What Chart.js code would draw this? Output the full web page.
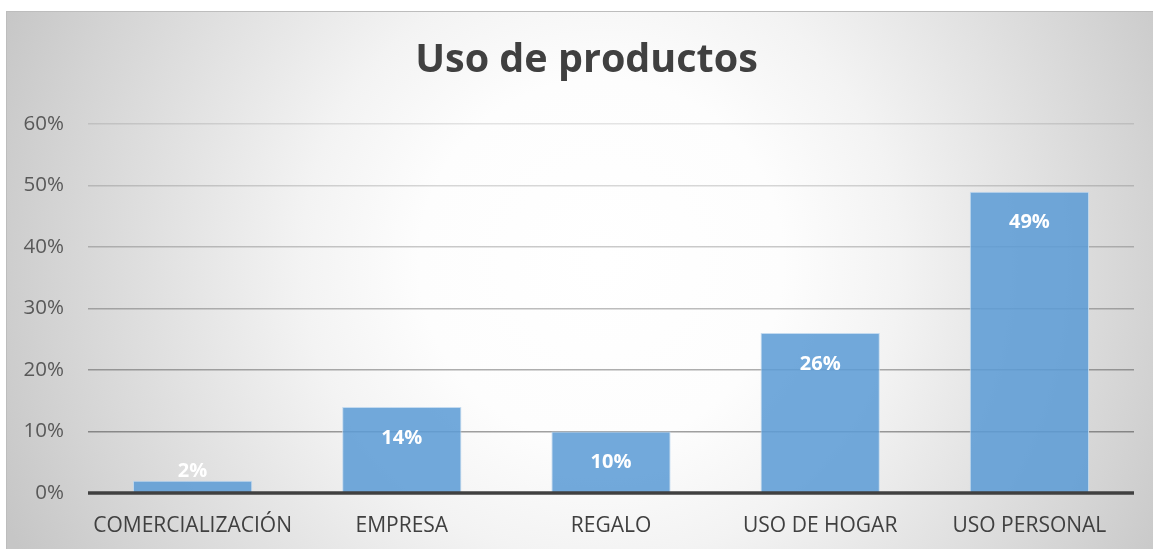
<!DOCTYPE html>
<html>
<head>
<meta charset="utf-8">
<script src="https://cdn.jsdelivr.net/npm/chart.js@4.4.1/dist/chart.umd.min.js"></script>
<style>
  html, body { margin: 0; padding: 0; background: #ffffff; overflow: hidden; }
  #marco {
    position: absolute; left: 6px; top: 11px; width: 1160px; height: 560px;
    border: 1px solid #bdbdbd;
    background: radial-gradient(circle 650px at 594px 249px, #ffffff 0%, #fdfdfd 28%, #f3f3f3 46%, #d3d3d3 85%, #c6c6c6 100%);
  }
  #caja { position: absolute; left: 0; top: 0; width: 1153px; height: 549px; }
</style>
</head>
<body>
<div id="marco"></div>
<div id="caja"><canvas id="grafico"></canvas></div>
<script>
// datos del grafico
const titulo = 'Uso de productos';
const categorias = ["COMERCIALIZACIÓN", "EMPRESA", "REGALO", "USO DE HOGAR", "USO PERSONAL"];
const porcentajes = [2, 14, 10, 26, 49];
const marcasEje = [0, 10, 20, 30, 40, 50, 60];

// lineas de la cuadricula: mas oscuras hacia abajo
function colorRejilla(ctx) {
  const v = ctx.tick ? ctx.tick.value : 0;
  if (v === 0) return 'rgba(0,0,0,0)';
  const alfa = 0.42 - (v / 60) * 0.32;
  return 'rgba(0,0,0,' + alfa.toFixed(3) + ')';
}

// titulo centrado sobre el marco completo
const tituloMarco = {
  id: 'tituloMarco',
  afterDraw(chart) {
    const c = chart.ctx;
    c.save();
    c.fillStyle = '#404040';
    c.font = 'bold 39.5px "Open Sans"';
    c.textAlign = 'center';
    c.textBaseline = 'alphabetic';
    c.fillText(titulo, chart.width / 2 + 10, 72);
    c.restore();
  }
};

// linea del cero encima de las barras
const lineaCero = {
  id: 'lineaCero',
  afterDatasetsDraw(chart) {
    const c = chart.ctx, a = chart.chartArea;
    const y = chart.scales.y.getPixelForValue(0);
    c.save();
    c.strokeStyle = '#404040';
    c.lineWidth = 3.5;
    c.beginPath();
    c.moveTo(a.left, y);
    c.lineTo(a.right, y);
    c.stroke();
    c.restore();
  }
};

// etiquetas de valor dentro de cada barra
const etiquetas = {
  id: 'etiquetas',
  afterDatasetsDraw(chart) {
    const c = chart.ctx;
    const meta = chart.getDatasetMeta(0);
    c.save();
    c.fillStyle = '#ffffff';
    c.font = 'bold 20px "Open Sans"';
    c.textAlign = 'center';
    c.textBaseline = 'middle';
    meta.data.forEach((barra, i) => {
      const alto = barra.base - barra.y;
      const y = alto < 40 ? barra.y - 9 : barra.y + 31;
      c.fillText(porcentajes[i] + '%', barra.x, y);
    });
    c.restore();
  }
};

let ctx = document.getElementById('grafico').getContext('2d');
let grafico = new Chart(ctx, {
  type: 'bar',
  data: {
    labels: categorias,
    datasets: [{
      label: titulo,
      data: porcentajes,
      backgroundColor: 'rgba(91,155,213,0.86)',
      borderColor: 'rgba(190,215,238,0.9)',
      borderWidth: 1,
      categoryPercentage: 1,
      barPercentage: 0.57
    }]
  },
  options: {
    responsive: true,
    maintainAspectRatio: false,
    animation: false,
    layout: { padding: { top: 124, right: 19, bottom: 0, left: 0 } },
    plugins: {
      legend: { display: false },
      tooltip: { enabled: false },
      title: { display: false }
    },
    scales: {
      x: {
        grid: { display: false, drawTicks: false },
        border: { display: false },
        ticks: { color: '#404040', font: { family: '"Open Sans"', size: 21 }, padding: 20, maxRotation: 0 },
        afterFit(scale) { scale.height = 56; }
      },
      y: {
        min: 0,
        max: 60,
        afterBuildTicks(scale) { scale.ticks = marcasEje.map(v => ({ value: v })); },
        grid: { color: colorRejilla, lineWidth: 1.5, drawTicks: false },
        border: { display: false },
        ticks: {
          color: '#595959',
          font: { family: '"Open Sans"', size: 20.5 },
          padding: 24,
          callback: v => v + '%'
        },
        afterFit(scale) { scale.width = 88; }
      }
    }
  },
  plugins: [lineaCero, etiquetas, tituloMarco]
});
</script>
</body>
</html>
